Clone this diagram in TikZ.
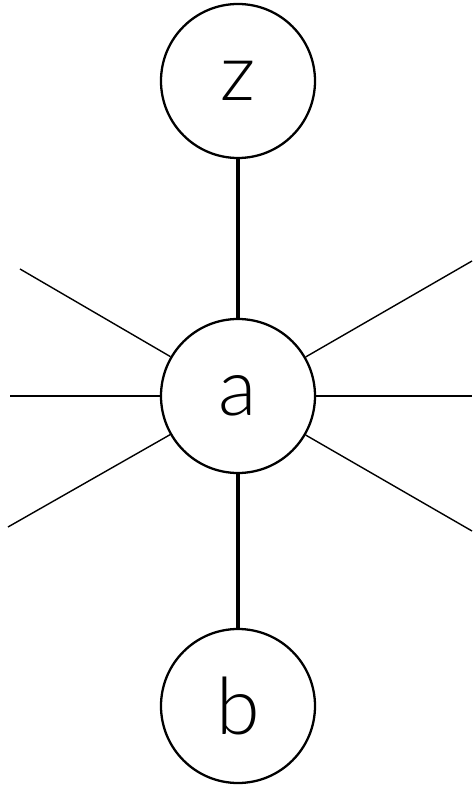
\documentclass[tikz,border=0pt]{standalone}
\usepackage{fontspec}
\newfontfamily\labfont{Lato Light}
\usepackage{tikz}
\usetikzlibrary{positioning}

\begin{document}
\begin{tikzpicture}[
  vert/.style={draw,circle,line width=1.3pt,minimum size=3.08cm,inner sep=0pt,font=\labfont\fontsize{45}{54}\selectfont},
  spoke/.style={line width=0.8pt},
  heavy/.style={line width=2.2pt}]
\useasboundingbox (-4.76,-7.82) rectangle (4.68,7.92);
\node[vert] (a) at (0,0) {a};
\node[vert] (z) at (0,6.3) {z};
\node[vert] (b) at (0,-6.2) {b};
% free ends of the other edges
\coordinate (ul) at (-4.36,2.54);
\coordinate (ml) at (-4.56,0);
\coordinate (ll) at (-4.60,-2.62);
\coordinate (ur) at (4.68,2.70);
\coordinate (mr) at (4.68,0);
\coordinate (lr) at (4.68,-2.70);
\draw[heavy] (z) -- (a);
\draw[heavy] (a) -- (b);
\draw[spoke] (a) -- (ul);
\draw[spoke] (a) -- (ml);
\draw[spoke] (a) -- (ll);
\draw[spoke] (a) -- (ur);
\draw[spoke] (a) -- (mr);
\draw[spoke] (a) -- (lr);
\end{tikzpicture}
\end{document}
